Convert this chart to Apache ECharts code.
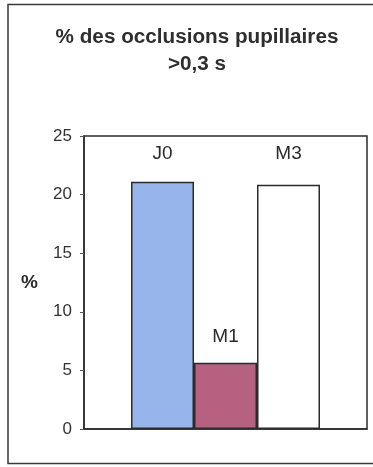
<!DOCTYPE html>
<html>
<head>
<meta charset="utf-8">
<script src="https://cdn.jsdelivr.net/npm/echarts@6/dist/echarts.min.js"></script>
<style>
  html, body { margin: 0; padding: 0; background: #fff; }
  #chart { width: 373px; height: 467px; }
</style>
</head>
<body>
<div id="chart"></div>
<script>
// Occlusion data: one bar per visit
const visits = ['J0', 'M1', 'M3'];
const occlusionPct = [21.1, 5.65, 20.85];
const yTicks = [0, 5, 10, 15, 20, 25];

const fills = ['#97b5ea', '#b6617f', '#ffffff'];
const labelGaps = [18, 17, 21];
const FONT = '"Liberation Sans", Arial, sans-serif';

const series = visits.map((name, i) => ({
  name: name,
  type: 'bar',
  barWidth: 63,
  barGap: '0%',
  data: [occlusionPct[i]],
  itemStyle: { color: fills[i], borderColor: '#2b2b2b', borderWidth: 1.5 },
  label: {
    show: true,
    position: 'top',
    distance: labelGaps[i],
    formatter: name,
    fontFamily: FONT,
    fontSize: 19,
    color: '#2a2a2a'
  }
}));

const chart = echarts.init(document.getElementById('chart'), null, { renderer: 'canvas' });
chart.setOption({
  animation: false,
  backgroundColor: '#ffffff',
  title: {
    text: '% des occlusions pupillaires\n>0,3 s',
    left: 192,
    textAlign: 'center',
    top: 19,
    textStyle: {
      fontFamily: FONT,
      fontSize: 20.7,
      fontWeight: 'bold',
      color: '#2e2e2e',
      lineHeight: 27
    }
  },
  graphic: [{
    type: 'rect',
    shape: { x: 8, y: 4.5, width: 380, height: 459 },
    style: { fill: 'none', stroke: '#3a3a3a', lineWidth: 1.5 },
    silent: true
  }],
  grid: {
    left: 84, top: 136, width: 283, height: 293,
    show: true, borderColor: '#2b2b2b', borderWidth: 1.5,
    containLabel: false
  },
  xAxis: {
    type: 'category',
    data: [''],
    axisLine: { show: true, lineStyle: { color: '#2b2b2b', width: 1.5 } },
    axisTick: { show: false },
    axisLabel: { show: false }
  },
  yAxis: {
    type: 'value',
    min: yTicks[0],
    max: yTicks[yTicks.length - 1],
    interval: yTicks[1] - yTicks[0],
    name: '%',
    nameLocation: 'middle',
    nameRotate: 0,
    nameGap: 46,
    nameTextStyle: { fontFamily: FONT, fontSize: 19, fontWeight: 'bold', color: '#2a2a2a' },
    axisLine: { show: true, lineStyle: { color: '#2b2b2b', width: 1.5 } },
    axisTick: { show: true, length: 4, lineStyle: { color: '#555' } },
    axisLabel: { margin: 12, fontFamily: FONT, fontSize: 17, color: '#333' },
    splitLine: { show: false }
  },
  series: series
});
</script>
</body>
</html>
